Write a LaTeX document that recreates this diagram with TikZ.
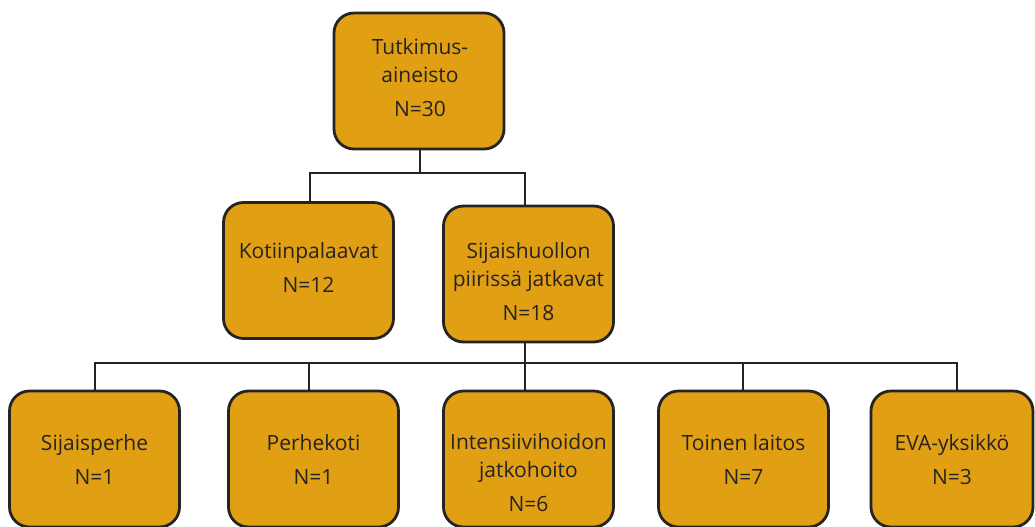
\documentclass[tikz,border=0pt]{standalone}
\usepackage{fontspec}
\setmainfont{Open Sans}
\definecolor{boxfill}{HTML}{E19F14}
\definecolor{ink}{HTML}{262324}
\tikzset{
  box/.style={draw=ink, line width=1.4pt, fill=boxfill, rounded corners=10pt, minimum width=85pt, minimum height=68pt, inner sep=0pt},
  txt/.style={text=ink, align=center, font=\fontsize{10.5}{14}\selectfont, inner sep=0pt},
  link/.style={draw=ink, line width=1.3pt}
}
\begin{document}
\begin{tikzpicture}[x=0.5pt,y=-0.5pt]

		\useasboundingbox (0,0) rectangle (1035,526);
		\clip (0,0) rectangle (1035,526);

		% top level
		\node[box] (top) at (419,81) {};
		\node[txt] (top-t) at (420,78) {Tutkimus-\\aineisto\\[3pt]N=30};

		% middle level
		\node[box] (koti) at (308.5,270.5) {};
		\node[txt] (koti-t) at (308.5,267.5) {Kotiinpalaavat\\[3pt]N=12};
		\node[box] (sijais) at (528.5,274) {};
		\node[txt] (sijais-t) at (528.5,282) {Sijaishuollon\\piirissä jatkavat\\[3pt]N=18};

		% bottom level
		\node[box] (perhe) at (94.5,459) {};
		\node[txt] (perhe-t) at (94.5,460) {Sijaisperhe\\[3pt]N=1};
		\node[box] (perhekoti) at (313.5,459) {};
		\node[txt] (perhekoti-t) at (313.5,460) {Perhekoti\\[3pt]N=1};
		\node[box] (intens) at (528.5,459) {};
		\node[txt] (intens-t) at (528.5,473) {Intensiivihoidon\\jatkohoito\\[3pt]N=6};
		\node[box] (toinen) at (743.5,459) {};
		\node[txt] (toinen-t) at (743.5,460) {Toinen laitos\\[3pt]N=7};
		\node[box, minimum width=81pt] (eva) at (952,459) {};
		\node[txt] (eva-t) at (952,460) {EVA-yksikkö\\[3pt]N=3};

		% upper branch
		\coordinate (a0) at (420,173);
		\coordinate (a1) at (310,173);
		\coordinate (a2) at (525,173);
		\draw[link] (top.south -| a0) -- (a0);
		\draw[link] (koti.north -| a1) -- (a1) -- (a2) -- (sijais.north -| a2);

		% lower branch
		\coordinate (b0) at (525,363);
		\coordinate (b1) at (95,363);
		\coordinate (b2) at (309,363);
		\coordinate (b4) at (743,363);
		\coordinate (b5) at (957,363);
		\draw[link] (sijais.south -| b0) -- (intens.north -| b0);
		\draw[link] (perhe.north -| b1) -- (b1) -- (b5) -- (eva.north -| b5);
		\draw[link] (perhekoti.north -| b2) -- (b2);
		\draw[link] (toinen.north -| b4) -- (b4);

	\end{tikzpicture}
\end{document}
